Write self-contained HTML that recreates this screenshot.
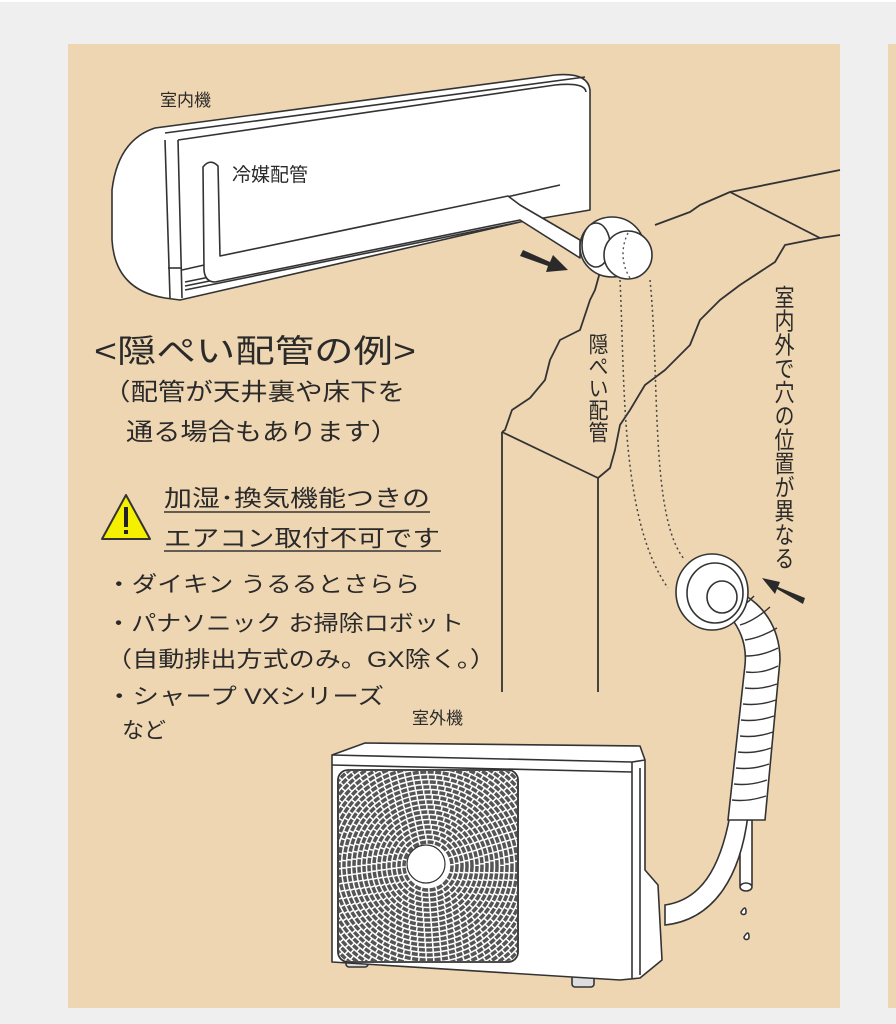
<!DOCTYPE html>
<html><head><meta charset="utf-8">
<style>
html,body{margin:0;padding:0;background:#efefef;}
svg{display:block;}
text{font-family:"Liberation Sans","Noto Sans CJK JP",sans-serif;fill:#2a2a2a;}
</style></head>
<body>
<svg width="896" height="1024" viewBox="0 0 896 1024" xmlns="http://www.w3.org/2000/svg">
<rect x="0" y="0" width="896" height="1024" fill="#efefef"/>
<rect x="0" y="0" width="896" height="2" fill="#fff"/>
<rect x="68" y="44" width="772" height="964" fill="#efd6b2"/>
<rect x="888" y="44" width="8" height="964" fill="#efd6b2"/>

<!-- wall -->
<g fill="none" stroke="#333" stroke-width="1.8" stroke-linejoin="round">
<path d="M655,225 L690,212 L700,205 L730,192 L840,170"/>
<path d="M730,192 L820,238"/>
<path d="M840,235 L820,238 L785,245 L775,262 L740,285 L720,300 L700,320 L690,345 L665,370 L645,385 L630,410 L620,425 L615,450 L610,468 L598,478"/>
<path d="M600,272 L595,290 L590,300 L580,330 L560,340 L550,360 L545,380 L530,398 L512,410 L505,430 L502,432"/>
<path d="M502,432 L598,478"/>
<path d="M502,432 L502,692"/>
<path d="M598,478 L598,692"/>
</g>
<g fill="none" stroke="#444" stroke-width="1.5" stroke-dasharray="2,3">
<path d="M620,280 C625,380 620,520 668,588"/>
<path d="M650,280 C660,380 650,520 685,560"/>
</g>

<!-- indoor unit -->
<g stroke="#333" stroke-width="1.6" fill="#fff" stroke-linejoin="round">
<path d="M155,128 L555,75 Q588,72 590,90 L590,210 L520,222 L180,300 L165,298 Q115,290 112,240 L112,190 Q118,140 155,128 Z"/>
<path d="M165,133 L585,77" fill="none"/>
<path d="M165,140 L170,298" fill="none"/>
<path d="M178,140 L182,298" fill="none"/>
<path d="M178,140 L555,85 Q585,82 586,92" fill="none"/>
<path d="M182,270 L560,185" fill="none"/>
<path d="M185,290 L520,222" fill="none"/>
<path d="M185,286 L520,218" fill="none"/>
<path d="M185,282 L520,214" fill="none"/>
<path d="M168,268 L182,268" fill="none"/>
<path d="M203,167 Q210,158 218,166 L220,256 L508,196 L520,205 L580,240 L580,258 L520,220 L215,282 Q205,282 204,270 Z"/>
</g>
<g stroke="#333" stroke-width="1.6" fill="#fff">
<ellipse cx="612" cy="247" rx="32" ry="30"/>
<ellipse cx="596" cy="245" rx="14" ry="22"/>
<circle cx="628" cy="255" r="24"/>
</g>
<path d="M628,233 C622,245 620,262 630,278" fill="none" stroke="#555" stroke-width="1.4" stroke-dasharray="2,3"/>
<path d="M523,250 L550,262 L553,255 L568,270 L546,272 L548,266 L520,256 Z" fill="#2a2a2a"/>
<path d="M805,598 L778,587 L780,582 L762,578 L775,594 L777,589 L803,604 Z" fill="#2a2a2a"/>

<!-- outdoor hose -->
<g stroke="#333" stroke-width="1.6" fill="#fff">
<path d="M740,820 L752,820 L752,885 L740,885 Z"/>
<path d="M730,815 C720,870 700,900 665,905 L665,925 C712,920 740,880 748,815 Z"/>
<path d="M710,585 C740,585 780,610 780,660 L765,820 L728,820 L745,665 C748,635 730,610 712,605 Z"/>
</g>
<g stroke="#333" stroke-width="1.4" fill="none">
<path d="M732,612 q12,-5 22,-16"/><path d="M740,625 q14,-4 30,-18"/>
<path d="M745,640 q15,-2 32,-12"/><path d="M746,656 q16,0 32,-8"/>
<path d="M746,672 q16,2 32,-6"/><path d="M745,688 q16,2 32,-4"/>
<path d="M743,704 q16,2 33,-4"/><path d="M741,720 q16,2 33,-4"/>
<path d="M740,736 q16,2 33,-4"/><path d="M738,752 q16,2 33,-4"/>
<path d="M736,768 q16,2 33,-4"/><path d="M734,784 q16,2 33,-4"/>
<path d="M732,800 q16,2 34,-4"/>
</g>
<g stroke="#333" stroke-width="1.6" fill="#fff">
<ellipse cx="712" cy="592" rx="36" ry="38"/>
<ellipse cx="715" cy="593" rx="28" ry="30"/>
<ellipse cx="722" cy="597" rx="15" ry="16"/>
<ellipse cx="746" cy="887" rx="6" ry="4"/>
<path d="M741,912 q5,-8 5,0 a2.5,2.5 0 0 1 -5,0Z"/>
<path d="M744,937 q5,-8 5,0 a2.5,2.5 0 0 1 -5,0Z"/>
</g>

<!-- outdoor unit -->
<g stroke="#333" stroke-width="1.6" fill="#fff" stroke-linejoin="round">
<rect x="346" y="955" width="22" height="12" rx="3" fill="#ddd"/>
<rect x="572" y="975" width="22" height="12" rx="3" fill="#ddd"/>
<path d="M332,755 L365,743 L640,746 L645,760 L645,870 L658,885 L662,960 L640,978 L620,980 L332,962 Z"/>
<path d="M332,755 L632,762 L645,760" fill="none"/>
<path d="M332,765 L632,772" fill="none"/>
<path d="M632,762 L632,978" fill="none"/>
<path d="M640,768 L640,975" fill="none"/>
<rect x="338" y="770" width="180" height="192" rx="10" fill="#fff"/>
</g>
<defs><clipPath id="g"><rect x="339" y="771" width="178" height="190" rx="10"/></clipPath></defs>
<g clip-path="url(#g)" fill="none" stroke="#555" stroke-width="3.5" stroke-dasharray="6,1.5">
<circle cx="428" cy="866" r="24"/><circle cx="428" cy="866" r="29"/><circle cx="428" cy="866" r="34"/>
<circle cx="428" cy="866" r="39"/><circle cx="428" cy="866" r="44"/><circle cx="428" cy="866" r="49"/>
<circle cx="428" cy="866" r="54"/><circle cx="428" cy="866" r="59"/><circle cx="428" cy="866" r="64"/>
<circle cx="428" cy="866" r="69"/><circle cx="428" cy="866" r="74"/><circle cx="428" cy="866" r="79"/>
<circle cx="428" cy="866" r="84"/><circle cx="428" cy="866" r="89"/><circle cx="428" cy="866" r="94"/>
<circle cx="428" cy="866" r="99"/><circle cx="428" cy="866" r="104"/><circle cx="428" cy="866" r="109"/>
<circle cx="428" cy="866" r="114"/><circle cx="428" cy="866" r="119"/><circle cx="428" cy="866" r="124"/>
<circle cx="428" cy="866" r="129"/><circle cx="428" cy="866" r="134"/>
</g>
<rect x="338" y="770" width="180" height="192" rx="10" fill="none" stroke="#333" stroke-width="1.6"/>
<circle cx="426" cy="864" r="19" fill="#fff" stroke="#333" stroke-width="1.2"/>

<!-- text -->
<text x="160" y="106" font-size="17">室内機</text>
<text x="232" y="181" font-size="19">冷媒配管</text>
<text x="94" y="362" font-size="32" textLength="322" lengthAdjust="spacingAndGlyphs">&lt;隠ぺい配管の例&gt;</text>
<text x="103" y="400" font-size="24" textLength="302" lengthAdjust="spacingAndGlyphs">（配管が天井裏や床下を</text>
<text x="126" y="440" font-size="24" textLength="272" lengthAdjust="spacingAndGlyphs">通る場合もあります）</text>

<path d="M126,495 L150,539 L102,539 Z" fill="#f4f000" stroke="#333" stroke-width="2" stroke-linejoin="round"/>
<rect x="124" y="507" width="4" height="20" fill="#222"/><rect x="124" y="530" width="4" height="4" fill="#222"/>
<text x="164" y="506" font-size="23" textLength="266" lengthAdjust="spacingAndGlyphs">加湿･換気機能つきの</text>
<line x1="164" y1="512" x2="430" y2="512" stroke="#333" stroke-width="1.5"/>
<text x="164" y="546" font-size="23" textLength="276" lengthAdjust="spacingAndGlyphs">エアコン取付不可です</text>
<line x1="164" y1="551" x2="441" y2="551" stroke="#333" stroke-width="1.5"/>

<text x="106" y="592" font-size="22" textLength="314" lengthAdjust="spacingAndGlyphs">・ダイキン うるるとさらら</text>
<text x="106" y="631" font-size="22" textLength="358" lengthAdjust="spacingAndGlyphs">・パナソニック お掃除ロボット</text>
<text x="106" y="667" font-size="22" textLength="390" lengthAdjust="spacingAndGlyphs">（自動排出方式のみ。GX除く。）</text>
<text x="106" y="704" font-size="22" textLength="278" lengthAdjust="spacingAndGlyphs">・シャープ VXシリーズ</text>
<text x="122" y="738" font-size="22">など</text>
<text x="412" y="724" font-size="17">室外機</text>

<text x="596" y="333" font-size="20" style="writing-mode:vertical-rl" textLength="110" lengthAdjust="spacingAndGlyphs">隠ぺい配管</text>
<text x="782" y="285" font-size="20" style="writing-mode:vertical-rl" textLength="285" lengthAdjust="spacingAndGlyphs">室内外で穴の位置が異なる</text>
</svg>
</body></html>
